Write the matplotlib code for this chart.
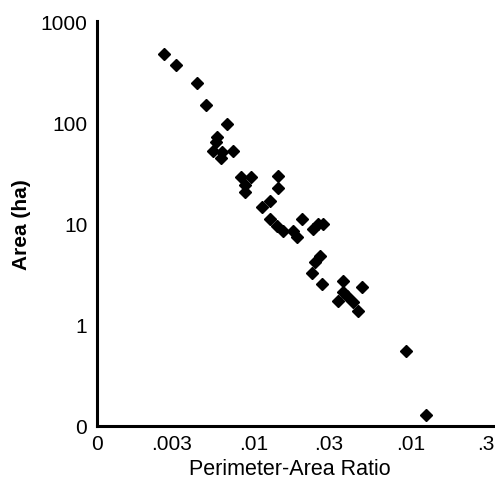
import matplotlib.pyplot as plt

# perimeter-area ratio and area (ha)
ratio = [0.00267, 0.00318, 0.00434, 0.00494, 0.00673, 0.00581, 0.00573, 0.00548,
         0.00625, 0.00734, 0.00617, 0.00826, 0.00957, 0.00877, 0.00877, 0.0142,
         0.0142, 0.01265, 0.01125, 0.01265, 0.0140, 0.0153, 0.0177, 0.0188,
         0.0202, 0.0238, 0.0256, 0.0275, 0.0263, 0.0245, 0.0234, 0.0271,
         0.0369, 0.0488, 0.0343, 0.0391, 0.0428, 0.0459, 0.0369, 0.0929, 0.125]
area = [472, 368, 244, 148, 96, 71, 64, 52,
        51, 52, 44, 28.8, 28.8, 24, 20.5, 29.5,
        22.4, 16.7, 14.6, 11.1, 9.45, 8.43, 8.43, 7.36,
        11.1, 8.83, 9.9, 9.9, 4.77, 4.17, 3.24, 2.52,
        2.70, 2.36, 1.72, 1.92, 1.68, 1.37, 2.1, 0.55, 0.128]

xticks = [0.001, 0.003, 0.01, 0.03, 0.1, 0.3]
xticklabels = ["0", ".003", ".01", ".03", ".01", ".3"]
yticks = [0.1, 1, 10, 100, 1000]
yticklabels = ["0", "1", "10", "100", "1000"]

plt.rcParams['font.family'] = ['Liberation Sans', 'DejaVu Sans']

fig = plt.figure(figsize=(4.95, 4.89), dpi=100)
ax = fig.add_axes([97/495, 62/489, 398/495, 405/489])
ax.plot(ratio, area, 'D', color='black', markersize=5.8, clip_on=False)
ax.set_xscale('log')
ax.set_yscale('log')
ax.set_xlim(0.001, 0.343)
ax.set_ylim(0.1, 1000)
ax.set_xticks(xticks)
ax.set_xticklabels(xticklabels)
ax.set_yticks(yticks)
ax.set_yticklabels(yticklabels)
ax.minorticks_off()
ax.tick_params(length=0, labelsize=15)
ax.tick_params(axis='y', pad=7)
ax.tick_params(axis='x', pad=6)
ax.spines['top'].set_visible(False)
ax.spines['right'].set_visible(False)
ax.spines['left'].set_linewidth(2.2)
ax.spines['bottom'].set_linewidth(2.2)
ax.set_xlabel("Perimeter-Area Ratio", fontsize=15.5)
ax.set_ylabel("Area (ha)", fontsize=15, fontweight='bold')
ax.xaxis.set_label_coords(0.485, -0.078)
ax.yaxis.set_label_coords(-0.165, 0.5)

plt.savefig("out.png", dpi=100)
